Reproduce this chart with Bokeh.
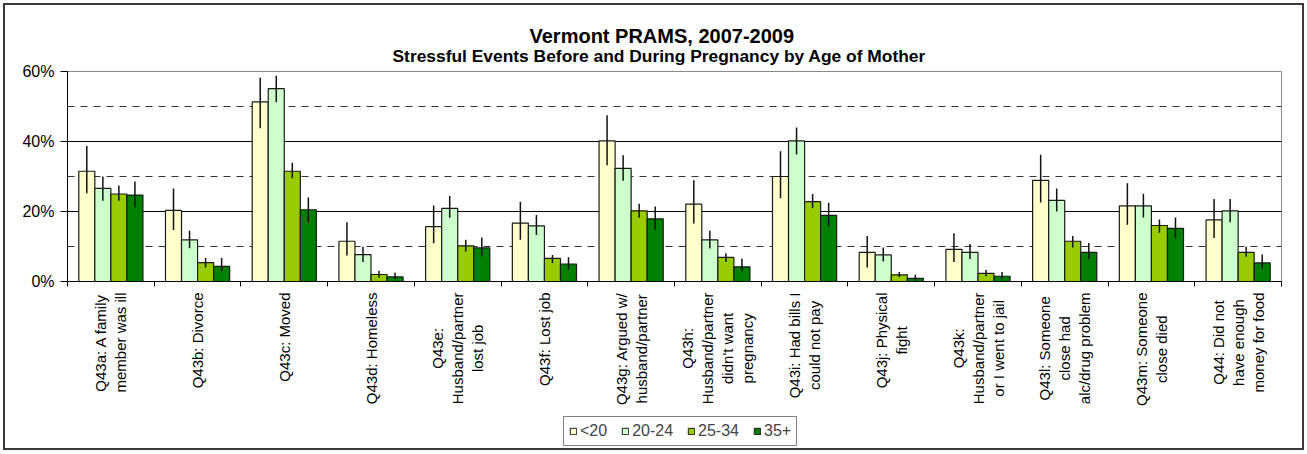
from bokeh.plotting import figure
from bokeh.layouts import column
from bokeh.models import (Legend, LegendItem, Title, FixedTicker, Range1d,
                          PrintfTickFormatter, ColumnDataSource, CustomJSTickFormatter)
from bokeh.core.properties import value
from bokeh.embed import file_html
from bokeh.resources import INLINE

# ---------------- data ----------------
categories = [
    "Q43a: A family\nmember was ill",
    "Q43b: Divorce",
    "Q43c: Moved",
    "Q43d: Homeless",
    "Q43e:\nHusband/partner\nlost job",
    "Q43f: Lost job",
    "Q43g: Argued w/\nhusband/partner",
    "Q43h:\nHusband/partner\ndidn't want\npregnancy",
    "Q43i: Had bills I\ncould not pay",
    "Q43j: Physical\nfight",
    "Q43k:\nHusband/partner\nor I went to jail",
    "Q43l: Someone\nclose had\nalc/drug problem",
    "Q43m: Someone\nclose died",
    "Q44: Did not\nhave enough\nmoney for food",
]
series_names = ["<20", "20-24", "25-34", "35+"]

age_lt20 = [31.5, 20.3, 51.3, 11.5, 15.7, 16.7, 40.2, 22.1, 30.0, 8.3, 9.2, 28.9, 21.6, 17.6]
age_2024 = [26.6, 11.9, 55.1, 7.7, 20.9, 15.9, 32.3, 11.9, 40.2, 7.6, 8.3, 23.2, 21.6, 20.2]
age_2534 = [25.0, 5.4, 31.5, 2.0, 10.2, 6.6, 20.2, 6.9, 22.8, 1.9, 2.3, 11.5, 16.0, 8.3]
age_35 = [24.7, 4.3, 20.5, 1.3, 9.6, 5.0, 17.9, 4.2, 18.9, 0.9, 1.5, 8.3, 15.2, 5.3]

lo_lt20 = [25.2, 14.7, 43.8, 7.4, 10.9, 11.9, 33.2, 16.6, 23.8, 4.0, 5.6, 22.6, 16.2, 12.4]
hi_lt20 = [38.7, 26.6, 58.2, 16.9, 21.7, 22.8, 47.5, 28.9, 37.2, 13.0, 13.8, 36.2, 28.1, 23.6]
lo_2024 = [23.1, 9.5, 51.2, 5.6, 18.2, 13.3, 28.8, 9.4, 36.3, 5.7, 6.4, 20.0, 18.3, 16.9]
hi_2024 = [30.0, 14.5, 58.8, 9.9, 24.4, 19.0, 36.1, 14.5, 44.0, 9.7, 10.7, 26.6, 25.1, 23.6]
lo_2534 = [23.1, 4.0, 29.5, 1.1, 8.6, 5.3, 18.2, 5.6, 20.9, 1.3, 1.5, 9.7, 13.9, 7.1]
hi_2534 = [27.4, 6.7, 33.9, 3.1, 11.9, 7.6, 22.2, 8.1, 25.0, 2.7, 3.3, 13.0, 17.7, 9.9]
lo_35 = [21.2, 2.9, 16.9, 0.7, 7.2, 3.4, 14.7, 2.9, 15.8, 0.2, 0.7, 6.4, 12.4, 3.7]
hi_35 = [28.6, 6.7, 24.0, 2.5, 12.6, 6.9, 21.4, 6.6, 22.5, 1.9, 2.7, 11.0, 18.3, 7.7]

y_ticks = [0, 20, 40, 60]

# ---------------- styling ----------------
colors = ["#FFFFCC", "#CCFFCC", "#99CC00", "#008000"]
FONT = "Liberation Sans"
W = 1297
H1, H2 = 286, 157
ML, MR, MT, MB = 62, 21, 66, 10
N = len(categories)
FRAME_W = W - ML - MR
px_x = FRAME_W / N

xr = Range1d(0, N)

# ---------------- main chart ----------------
p = figure(width=W, height=H1, output_backend="svg", toolbar_location=None,
           x_range=xr, y_range=Range1d(0, 60),
           min_border_left=ML, min_border_right=MR, min_border_top=MT,
           min_border_bottom=MB, background_fill_color="white",
           border_fill_color="white")

p.add_layout(Title(text="Stressful Events Before and During Pregnancy by Age of Mother",
                   align="left", offset=325, text_font=FONT, text_font_size="17.4px",
                   text_font_style="bold", text_color="black", standoff=12,
                   text_line_height=0.9), "above")
p.add_layout(Title(text="Vermont PRAMS, 2007-2009", align="left", offset=462,
                   text_font=FONT, text_font_size="20px", text_font_style="bold",
                   text_color="black", standoff=-18, text_line_height=0.9), "above")

p.outline_line_color = "#8a8a8a"
p.outline_line_width = 1

p.xgrid.visible = False
p.ygrid.ticker = FixedTicker(ticks=[20, 40], minor_ticks=[10, 30, 50])
p.ygrid.grid_line_color = "black"
p.ygrid.grid_line_width = 1
p.ygrid.minor_grid_line_color = "#333333"
p.ygrid.minor_grid_line_dash = "7 6"
p.ygrid.minor_grid_line_width = 1

p.yaxis.ticker = FixedTicker(ticks=y_ticks)
p.yaxis.formatter = PrintfTickFormatter(format="%d%%")
p.yaxis.major_label_text_font = FONT
p.yaxis.major_label_text_font_size = "16px"
p.yaxis.major_label_text_color = "black"
p.yaxis.major_tick_out = 7
p.yaxis.major_tick_in = 0
p.yaxis.minor_tick_line_color = None
p.yaxis.axis_line_color = "black"
p.yaxis.major_tick_line_color = "black"
p.yaxis.major_label_standoff = 6

p.xaxis.ticker = FixedTicker(ticks=list(range(N + 1)))
p.xaxis.formatter = CustomJSTickFormatter(code="return ''")
p.xaxis.major_label_standoff = 0
p.xaxis.major_tick_out = 5
p.xaxis.major_tick_in = 0
p.xaxis.minor_tick_line_color = None
p.xaxis.axis_line_color = "black"
p.xaxis.major_tick_line_color = "black"

vals = [age_lt20, age_2024, age_2534, age_35]
los = [lo_lt20, lo_2024, lo_2534, lo_35]
his = [hi_lt20, hi_2024, hi_2534, hi_35]
bar_w = 0.185
offsets = [-1.5 * bar_w, -0.5 * bar_w, 0.5 * bar_w, 1.5 * bar_w]
sources = []
for k in range(4):
    xs = [i + 0.5 + offsets[k] for i in range(N)]
    src = ColumnDataSource(dict(x=xs, top=vals[k], lo=los[k], hi=his[k]))
    sources.append(src)
    p.vbar(x="x", top="top", bottom=0, width=bar_w, source=src,
           fill_color=colors[k], line_color="#1a1a1a", line_width=1.2)
    p.segment(x0="x", x1="x", y0="lo", y1="hi", source=src,
              line_color="#111111", line_width=1.5)

# ---------------- category labels + legend strip ----------------
q = figure(width=W, height=H2, output_backend="svg", toolbar_location=None,
           x_range=xr, y_range=Range1d(-H2, 0), x_axis_type=None, y_axis_type=None,
           min_border_left=ML, min_border_right=MR, min_border_top=0,
           min_border_bottom=0, background_fill_color="white",
           border_fill_color="white")
q.outline_line_color = None
q.grid.visible = False

CW = {' ': 278, "'": 191, '/': 278, ':': 278, 'A': 667, 'D': 722, 'H': 722,
      'I': 278, 'L': 556, 'M': 833, 'P': 667, 'Q': 778, 'S': 667,
      'a': 556, 'b': 556, 'c': 500, 'd': 556, 'e': 556, 'f': 278, 'g': 556,
      'h': 556, 'i': 222, 'j': 222, 'k': 500, 'l': 222, 'm': 833, 'n': 556,
      'o': 556, 'p': 556, 'q': 556, 'r': 333, 's': 500, 't': 278, 'u': 556,
      'v': 500, 'w': 722, 'x': 500, 'y': 500, 'z': 500}
LBL_SIZE = 15
LINE_SP = 20
TOP_GAP = 1


def tw(s):
    return sum(CW.get(ch, 556) for ch in s) / 1000.0 * LBL_SIZE


lx, ly, lt = [], [], []
for i, cat in enumerate(categories):
    lines = cat.split("\n")
    n = len(lines)
    maxw = max(tw(s) for s in lines)
    for j, s in enumerate(lines):
        lx.append(i + 0.5 + (j - (n - 1) / 2.0) * LINE_SP / px_x)
        ly.append(-(TOP_GAP + maxw / 2.0))
        lt.append(s)
q.text(x=lx, y=ly, text=lt, angle=1.5707963267948966, text_align="center",
       text_baseline="middle", text_font=value(FONT),
       text_font_size=f"{LBL_SIZE}px", text_color="black")

# legend proxies (hidden copies of the series, only used for legend swatches)
legend_renderers = []
for k in range(4):
    r = q.vbar(x="x", top="top", bottom=0, width=bar_w, source=sources[k],
               fill_color=colors[k], line_color="#1a1a1a", line_width=1)
    r.visible = False
    legend_renderers.append(r)
legend = Legend(items=[LegendItem(label=series_names[k], renderers=[legend_renderers[k]])
                       for k in range(4)],
                orientation="horizontal", location=(496, 2), click_policy="none",
                label_text_font=FONT, label_text_font_size="16px",
                glyph_width=8, glyph_height=8, label_standoff=3, spacing=14,
                padding=5, margin=0, border_line_color="black",
                border_line_width=1, background_fill_color="white",
                background_fill_alpha=1.0, label_height=16,
                inactive_fill_alpha=0.0)
q.add_layout(legend, "center")

layout = column(p, q, spacing=0,
                styles={"border": "2px solid #3a3a3a", "margin": "3px",
                        "box-sizing": "content-box"})

open("out.html", "w").write(file_html(layout, INLINE))
